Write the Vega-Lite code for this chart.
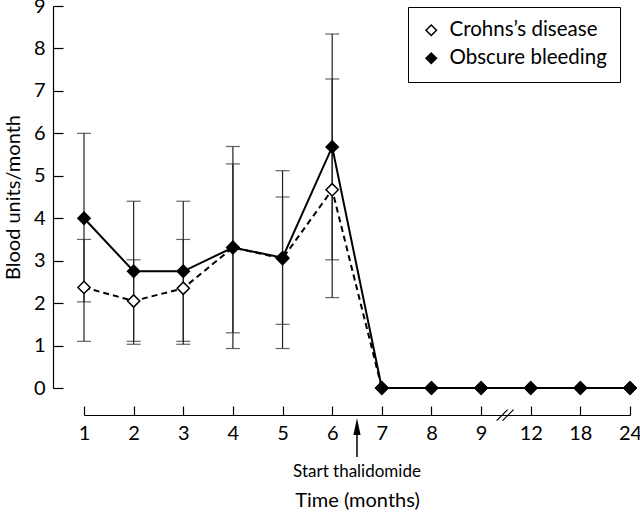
{
  "$schema": "https://vega.github.io/schema/vega-lite/v6.json",
  "width": 546,
  "height": 382,
  "autosize": {"type": "none"},
  "padding": {"left": 84, "top": 6, "right": 10, "bottom": 127},
  "background": "white",
  "config": {
    "font": "Lato",
    "view": {"stroke": null},
    "axis": {"grid": false, "domainColor": "black", "tickColor": "black", "labelColor": "black", "titleColor": "black", "domainWidth": 1.2, "tickWidth": 1.2, "titleFontWeight": "normal"}
  },
  "data": {
    "values": [
      {"month": "1", "series": "Crohns’s disease", "value": 2.37, "lo": 1.1, "hi": 3.5},
      {"month": "2", "series": "Crohns’s disease", "value": 2.05, "lo": 1.03, "hi": 3.02},
      {"month": "3", "series": "Crohns’s disease", "value": 2.35, "lo": 1.03, "hi": 3.5},
      {"month": "4", "series": "Crohns’s disease", "value": 3.31, "lo": 1.3, "hi": 5.28},
      {"month": "5", "series": "Crohns’s disease", "value": 3.05, "lo": 1.5, "hi": 4.5},
      {"month": "6", "series": "Crohns’s disease", "value": 4.67, "lo": 2.13, "hi": 7.28},
      {"month": "7", "series": "Crohns’s disease", "value": 0},
      {"month": "8", "series": "Crohns’s disease", "value": 0},
      {"month": "9", "series": "Crohns’s disease", "value": 0},
      {"month": "12", "series": "Crohns’s disease", "value": 0},
      {"month": "18", "series": "Crohns’s disease", "value": 0},
      {"month": "24", "series": "Crohns’s disease", "value": 0},
      {"month": "1", "series": "Obscure bleeding", "value": 4.0, "lo": 2.03, "hi": 6.0},
      {"month": "2", "series": "Obscure bleeding", "value": 2.75, "lo": 1.1, "hi": 4.4},
      {"month": "3", "series": "Obscure bleeding", "value": 2.75, "lo": 1.1, "hi": 4.4},
      {"month": "4", "series": "Obscure bleeding", "value": 3.31, "lo": 0.93, "hi": 5.69},
      {"month": "5", "series": "Obscure bleeding", "value": 3.07, "lo": 0.93, "hi": 5.12},
      {"month": "6", "series": "Obscure bleeding", "value": 5.68, "lo": 3.02, "hi": 8.34},
      {"month": "7", "series": "Obscure bleeding", "value": 0},
      {"month": "8", "series": "Obscure bleeding", "value": 0},
      {"month": "9", "series": "Obscure bleeding", "value": 0},
      {"month": "12", "series": "Obscure bleeding", "value": 0},
      {"month": "18", "series": "Obscure bleeding", "value": 0},
      {"month": "24", "series": "Obscure bleeding", "value": 0}
    ]
  },
  "encoding": {
    "x": {
      "field": "month",
      "type": "ordinal",
      "sort": ["1", "2", "3", "4", "5", "6", "7", "8", "9", "12", "18", "24"],
      "scale": {"type": "point", "padding": 0},
      "axis": {"title": "Time (months)", "offset": 27, "tickSize": -9, "labelPadding": 17, "labelFontSize": 20, "labelAngle": 0, "titleFontSize": 20, "titlePadding": 47}
    }
  },
  "layer": [
    {
      "mark": {"type": "rule", "color": "#222", "strokeWidth": 1.2},
      "encoding": {
        "y": {"field": "lo", "type": "quantitative", "scale": {"domain": [0, 9], "nice": false}, "axis": {"title": "Blood units/month", "offset": 31, "tickSize": -10, "values": [0, 1, 2, 3, 4, 5, 6, 7, 8, 9], "labelPadding": 18, "labelFontSize": 20, "titleFontSize": 20, "titlePadding": 10}},
        "y2": {"field": "hi"}
      }
    },
    {
      "mark": {"type": "tick", "color": "#222", "thickness": 1.2, "size": 14},
      "encoding": {"y": {"field": "lo", "type": "quantitative", "scale": {"domain": [0, 9]}}}
    },
    {
      "mark": {"type": "tick", "color": "#222", "thickness": 1.2, "size": 14},
      "encoding": {"y": {"field": "hi", "type": "quantitative", "scale": {"domain": [0, 9]}}}
    },
    {
      "transform": [{"filter": "datum.series === 'Crohns’s disease'"}],
      "mark": {"type": "line", "color": "black", "strokeWidth": 2, "strokeDash": [6, 4]},
      "encoding": {"y": {"field": "value", "type": "quantitative", "scale": {"domain": [0, 9]}}}
    },
    {
      "transform": [{"filter": "datum.series === 'Obscure bleeding'"}],
      "mark": {"type": "line", "color": "black", "strokeWidth": 2},
      "encoding": {"y": {"field": "value", "type": "quantitative", "scale": {"domain": [0, 9]}}}
    },
    {
      "mark": {"type": "point", "shape": "diamond", "size": 150, "filled": true, "stroke": "black", "strokeWidth": 1.5, "opacity": 1},
      "encoding": {
        "y": {"field": "value", "type": "quantitative", "scale": {"domain": [0, 9]}},
        "fill": {"field": "series", "type": "nominal", "scale": {"domain": ["Crohns’s disease", "Obscure bleeding"], "range": ["white", "black"]},
          "legend": {"title": null, "orient": "none", "legendX": 324, "legendY": 1, "symbolType": "diamond", "symbolSize": 110, "symbolStrokeColor": "black", "symbolStrokeWidth": 1.5, "labelFontSize": 20.5, "labelLimit": 300, "labelColor": "black", "strokeColor": "black", "fillColor": "white", "padding": 13, "rowPadding": 7, "labelOffset": 8}}
      }
    },
    {
      "data": {"values": [{"month": "6"}]},
      "mark": {"type": "rule", "color": "black", "strokeWidth": 1.5, "xOffset": 24.8},
      "encoding": {
        "y": {"datum": -1.0, "type": "quantitative", "scale": {"domain": [0, 9]}},
        "y2": {"datum": -1.626}
      }
    },
    {
      "data": {"values": [{"month": "6"}]},
      "mark": {"type": "point", "shape": "M0,-1L0.42,1L-0.42,1Z", "size": 289, "filled": true, "color": "black", "opacity": 1, "xOffset": 24.8},
      "encoding": {"y": {"datum": -0.907, "type": "quantitative", "scale": {"domain": [0, 9]}}}
    },
    {
      "data": {"values": [{"month": "6", "label": "Start thalidomide"}]},
      "mark": {"type": "text", "fontSize": 17, "color": "black", "baseline": "middle", "align": "center", "xOffset": 24.8},
      "encoding": {
        "y": {"datum": -1.98, "type": "quantitative", "scale": {"domain": [0, 9]}},
        "text": {"field": "label"}
      }
    },
    {
      "data": {"values": [{"month": "9"}]},
      "mark": {"type": "point", "shape": "M-0.77,0.5L0.23,-0.5M-0.23,0.5L0.77,-0.5", "size": 484, "filled": false, "stroke": "black", "strokeWidth": 1.2, "opacity": 1, "xOffset": 24},
      "encoding": {"y": {"datum": -0.64, "type": "quantitative", "scale": {"domain": [0, 9]}}}
    }
  ]
}
